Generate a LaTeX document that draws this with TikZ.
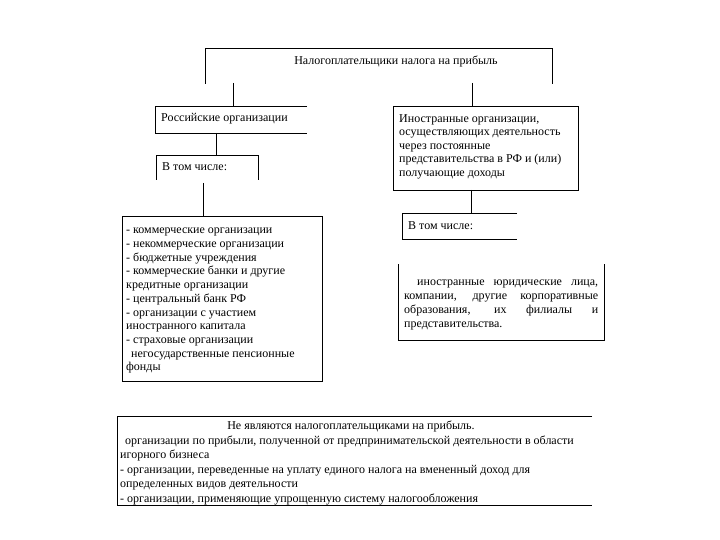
\documentclass[tikz,border=0pt]{standalone}
\usepackage{fontspec}
\setmainfont{Liberation Serif}
\begin{document}
\begin{tikzpicture}[x=1pt,y=-1pt,
  ln/.style={draw=black,line width=0.9pt},
  txt/.style={inner sep=0pt,font=\fontsize{12}{13.2}\selectfont},
  ltxt/.style={inner sep=0pt,font=\fontsize{12}{13.7}\selectfont},
  ftxt/.style={inner sep=0pt,font=\fontsize{12}{13.6}\selectfont},
  rtxt/.style={inner sep=0pt,font=\fontsize{12}{14}\selectfont},
  btxt/.style={inner sep=0pt,font=\fontsize{12}{14.5}\selectfont}]
\useasboundingbox[fill=white] (0,0) rectangle (720,540);

% top box
\coordinate (tl) at (205,84);
\coordinate (tr) at (552,84);
\draw[ln] (tl) -- (205,48) -- (552,48) -- (tr);
\node[txt] (title) at (396,61) {Налогоплательщики налога на прибыль};

% connectors from top
\coordinate (c1a) at (233,83);
\coordinate (c1b) at (233,106);
\coordinate (c2a) at (472,83);
\coordinate (c2b) at (472,106);
\draw[ln] (c1a) -- (c1b);
\draw[ln] (c2a) -- (c2b);

% Russian organisations
\draw[ln] (307,106) -- (155,106) -- (155,133) -- (307,133);
\node[txt,anchor=west] (rus) at (161,119) {Российские организации};

% foreign organisations
\draw[ln] (393,106) rectangle (578,190);
\node[ftxt,anchor=north west,align=left] (for) at (399,114)
  {Иностранные организации,\\осуществляющих деятельность\\через постоянные\\представительства в РФ и (или)\\получающие доходы};

% left: in particular
\coordinate (c3a) at (216,133);
\coordinate (c3b) at (216,155);
\draw[ln] (c3a) -- (c3b);
\draw[ln] (156,180) -- (156,155) -- (258,155) -- (258,180);
\node[txt,anchor=west] (incl1) at (162,167) {В том числе:};

\coordinate (c4a) at (203,183);
\coordinate (c4b) at (203,216);
\draw[ln] (c4a) -- (c4b);

% list box
\draw[ln] (122,216) rectangle (322,381);
\node[ltxt,anchor=north west,align=left] (list) at (126,228)
  {- коммерческие организации\\- некоммерческие организации\\- бюджетные учреждения\\- коммерческие банки и другие\\кредитные организации\\- центральный банк РФ\\- организации с участием\\иностранного капитала\\- страховые организации\\\hspace*{5pt}негосударственные пенсионные\\фонды};

% right: in particular
\coordinate (c5a) at (471,190);
\coordinate (c5b) at (471,213);
\draw[ln] (c5a) -- (c5b);
\draw[ln] (517,213) -- (402,213) -- (402,239) -- (517,239);
\node[txt,anchor=west] (incl2) at (408,226) {В том числе:};

% lower right box
\draw[ln] (398,264) -- (398,340) -- (604,340) -- (604,264);
\node[rtxt,anchor=north west,align=left] (forlist) at (404,280)
  {\hspace*{13pt}\makebox[181pt][s]{иностранные юридические лица,}\\
   \makebox[194pt][s]{компании, другие корпоративные}\\
   \makebox[194pt][s]{образования, их филиалы и}\\
   представительства.};

% bottom box
\draw[ln] (592,416) -- (117,416) -- (117,505) -- (592,505);
\node[txt] (nottitle) at (351,426) {Не являются налогоплательщиками на прибыль.};
\node[btxt,anchor=north west,align=left] (notlist) at (120,435.5)
  {\hspace*{5pt}организации по прибыли, полученной от предпринимательской деятельности в области\\игорного бизнеса\\- организации, переведенные на уплату единого налога на вмененный доход для\\определенных видов деятельности\\- организации, применяющие упрощенную систему налогообложения};
\end{tikzpicture}
\end{document}
